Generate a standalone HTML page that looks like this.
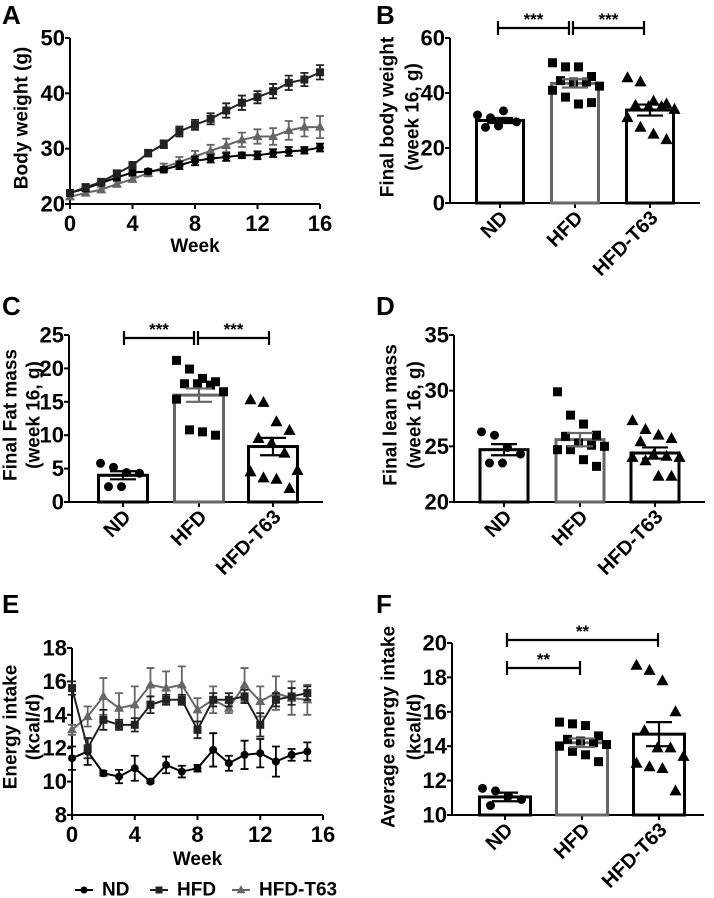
<!DOCTYPE html>
<html><head><meta charset="utf-8">
<style>
html,body{margin:0;padding:0;background:#fff;}
svg{display:block;font-family:"Liberation Sans",Arial,sans-serif;font-weight:bold;}
</style></head>
<body>
<svg id="fig" width="714" height="898" viewBox="0 0 714 898" xmlns="http://www.w3.org/2000/svg"></svg>
<script>
// ---- Panel A data (body weight, weeks 0..16)
const weeksA = [0,1,2,3,4,5,6,7,8,9,10,11,12,13,14,15,16];
const aND = [22,22.8,23.8,24.8,25.7,25.9,26.2,27,27.8,28.2,28.5,28.8,28.8,29.2,29.5,29.7,30.2];
const aNDerr = [0.5,0.5,0.4,0.5,0.5,0.4,0.5,0.7,0.8,0.7,0.7,0.5,0.7,0.7,0.8,0.6,0.7];
const aHFD = [22,23,24,25.5,27,29.2,30.8,33.1,34.3,35.4,36.9,38.3,39.3,40.4,41.9,42.5,43.8];
const aHFDerr = [0.5,0.6,0.5,0.6,0.6,0.6,0.7,0.9,0.9,1.0,1.3,1.3,1.1,1.3,1.3,1.2,1.3];
const aT63 = [21.3,22,22.6,23.6,24.5,25.6,26.6,27.6,28.6,29.6,30.6,31.6,32.2,32.2,33.3,33.9,33.9];
const aT63err = [0.4,0.5,0.5,0.5,0.5,0.6,0.7,0.9,1.0,1.1,1.2,1.3,1.3,1.5,1.7,1.7,2.0];
const ticksAX = [0,4,8,12,16];
const ticksAY = [20,30,40,50];
// ---- Panel E data (energy intake, weeks 0..15)
const weeksE = [0,1,2,3,4,5,6,7,8,9,10,11,12,13,14,15];
const eND = [11.4,11.8,10.5,10.3,10.8,10.0,11.0,10.6,10.8,11.9,11.1,11.6,11.7,11.2,11.6,11.8];
const eNDerr = [0.7,0.8,0.15,0.4,0.75,0.1,0.5,0.35,0.2,1.0,0.45,0.85,0.85,0.9,0.35,0.55];
const eHFD = [15.6,12.0,13.7,13.4,13.4,14.6,14.9,14.9,13.1,14.9,14.9,15.1,13.4,14.9,15.1,15.3];
const eHFDerr = [0.4,0.6,0.6,0.3,0.4,0.5,0.3,0.3,0.5,0.4,0.4,0.4,0.7,0.4,0.5,0.4];
const eT63 = [13.1,13.9,15.1,14.4,14.6,15.8,15.6,15.8,14.3,14.9,14.4,15.8,14.8,15.3,15.0,14.9];
const eT63err = [0.3,0.6,1.1,0.9,1.1,1.0,1.0,1.1,0.7,0.8,0.3,1.0,0.9,1.0,1.0,0.9];
const ticksEX = [0,4,8,12,16];
const ticksEY = [8,10,12,14,16,18];
// ---- Bar panels
const groups = ["ND","HFD","HFD-T63"];
const bMeans = [30,43.5,33.8];
const bSem = [0.9,1.5,2.0];
const bND = [32,31,33.5,29.5,27.5,28];
const bHFD = [51,49.5,49.5,46,44.5,44,44,42.5,41,38.5,36,36.5];
const bT63 = [45.5,44,37,36,35.5,35,35,34,31,27.5,25,23];
const ticksB = [0,20,40,60];
const cMeans = [4,16,8.3];
const cSem = [0.6,1.0,1.3];
const cND = [5.8,5.2,4.4,4.3,2.3,2.3];
const cHFD = [21.2,19.9,18.5,18,17.7,17.7,17.5,16.5,15.4,10.8,10.5,10.0];
const cT63 = [15.3,14.9,12,10.7,9.5,8.8,7.3,4.7,4.5,3.6,3.4,2.0];
const ticksC = [0,5,10,15,20,25];
const dMeans = [24.7,25.6,24.4];
const dSem = [0.5,0.6,0.5];
const dND = [26.3,26,24.9,24.3,23.5,23.5];
const dHFD = [29.9,27.8,27,26,25.9,25.3,25.1,25,24.7,24.7,23.8,23.2];
const dT63 = [27.3,26.5,26,25.7,25.4,24.2,24.1,24,24,23.7,22.3,22.3];
const ticksD = [20,25,30,35];
const fMeans = [11.05,14.2,14.7];
const fSem = [0.25,0.25,0.7];
const fND = [11.55,11.4,11.1,10.9,10.55];
const fHFD = [15.4,15.3,15.2,14.6,14.4,14.3,14.2,14.1,14.0,13.7,13.5,13.1];
const fT63 = [18.7,18.4,17.8,16,14.9,13.9,13.9,13.4,13.0,12.8,12.7,11.4];
const ticksF = [10,12,14,16,18,20];

const NS="http://www.w3.org/2000/svg";
const fig=document.getElementById('fig');
function mk(tag,attrs,parent){const e=document.createElementNS(NS,tag);for(const k in attrs)e.setAttribute(k,attrs[k]);(parent||fig).appendChild(e);return e;}
function txt(s,attrs,parent){const e=mk('text',attrs,parent);e.textContent=s;return e;}
function lin(s){return (v)=>s.r0+(v-s.d0)*(s.r1-s.r0)/(s.d1-s.d0);}

function marker(g,type,x,y,color,sz){
  let e;
  if(type==='circle') e=mk('circle',{cx:x,cy:y,r:sz/2,fill:color},g);
  else if(type==='square') e=mk('rect',{x:x-sz/2,y:y-sz/2,width:sz,height:sz,fill:color},g);
  else e=mk('polygon',{points:`${x},${y-sz*0.6} ${x-sz*0.55},${y+sz*0.4} ${x+sz*0.55},${y+sz*0.4}`,fill:color},g);
  return e;
}

function yTitle(g,lines,cx,cy){
  lines.forEach((l,i)=>{
    const t=txt(l.s,{x:0,y:0,'font-size':19,'text-anchor':'middle','dominant-baseline':'central',transform:`translate(${l.x},${cy}) rotate(-90)`},g);
    
    
  });
}

function panelLetter(s,x,y){
  const t=txt(s,{x:x,y:y,'font-size':26});
  
  
}

function lineChart(o){
  const g=mk('g',{});
  
  
  const X=lin(o.xs),Y=lin(o.ys);
  mk('line',{x1:o.xs.r0,y1:o.ys.r0,x2:o.xs.r0,y2:o.ys.r1,stroke:'#000','stroke-width':2},g);
  mk('line',{x1:o.xs.r0,y1:o.ys.r0,x2:o.xs.r1,y2:o.ys.r0,stroke:'#000','stroke-width':2},g);
  o.yt.forEach(v=>{
    mk('line',{x1:o.xs.r0-5,y1:Y(v),x2:o.xs.r0,y2:Y(v),stroke:'#000','stroke-width':2},g);
    const t=txt(String(v),{x:o.xs.r0-5,y:Y(v),'font-size':22,'text-anchor':'end','dominant-baseline':'central'},g);
    
    
  });
  o.xt.forEach(v=>{
    mk('line',{x1:X(v),y1:o.ys.r0,x2:X(v),y2:o.ys.r0+5,stroke:'#000','stroke-width':2},g);
    const t=txt(String(v),{x:X(v),y:o.ys.r0+27,'font-size':22,'text-anchor':'middle'},g);
    
    
  });
  const xtl=txt('Week',{x:(o.xs.r0+o.xs.r1)/2,y:o.weekY,'font-size':19,'text-anchor':'middle'},g);
  
  
  o.series.forEach(s=>{
    const sg=mk('g',{},g);
    
    
    const pts=o.x.map((w,i)=>X(w)+','+Y(s.v[i])).join(' ');
    mk('polyline',{points:pts,fill:'none',stroke:s.c,'stroke-width':2},sg);
    o.x.forEach((w,i)=>{
      const x=X(w),y1=Y(s.v[i]+s.e[i]),y2=Y(s.v[i]-s.e[i]);
      mk('path',{d:`M${x},${y1}V${y2}M${x-4},${y1}H${x+4}M${x-4},${y2}H${x+4}`,stroke:s.c,'stroke-width':1.8,fill:'none'},sg);
      const m=marker(sg,s.m,x,Y(s.v[i]),s.c,s.m==='triangle'?9:8);
      
      
    });
  });
  return g;
}

function barChart(o){
  const g=mk('g',{});
  
  
  const Y=lin(o.ys);
  const base=o.ys.r0;
  mk('line',{x1:o.ax,y1:o.ys.r0,x2:o.ax,y2:o.ys.r1,stroke:'#000','stroke-width':2},g);
  mk('line',{x1:o.ax,y1:base,x2:o.axEnd,y2:base,stroke:'#000','stroke-width':2},g);
  o.yt.forEach(v=>{
    mk('line',{x1:o.ax-5,y1:Y(v),x2:o.ax,y2:Y(v),stroke:'#000','stroke-width':2},g);
    const t=txt(String(v),{x:o.ax-5,y:Y(v),'font-size':22,'text-anchor':'end','dominant-baseline':'central'},g);
    
    
  });
  const mtypes=['circle','square','triangle'];
  const cols=['#000','#666','#000'];
  groups.forEach((gname,i)=>{
    const cx=o.cx[i];
    mk('line',{x1:cx,y1:base,x2:cx,y2:base+5,stroke:'#000','stroke-width':2},g);
    const bar=mk('rect',{x:cx-o.bw/2,y:Y(o.means[i]),width:o.bw,height:base-Y(o.means[i]),fill:'#fff',stroke:cols[i],'stroke-width':3},g);
    
    
    const pts=o.pts[i];
    pts.forEach((v,j)=>{
      const off=((j%4)-1.5)*13 + ((Math.floor(j/4)%2)?5:-3);
      const m=marker(g,mtypes[i],cx+off,Y(v),'#000',mtypes[i]==='triangle'?11:9);
      
      
    });
    const e1=Y(o.means[i]+o.sem[i]),e2=Y(o.means[i]-o.sem[i]);
    mk('path',{d:`M${cx},${e1}V${e2}M${cx-13},${e1}H${cx+13}M${cx-13},${e2}H${cx+13}`,stroke:cols[i],'stroke-width':2.2,fill:'none'},g);
    const t=txt(gname,{x:0,y:0,'font-size':20,'text-anchor':'end',transform:`translate(${cx+9},${base+16}) rotate(-45)`},g);
    
    
  });
  (o.sig||[]).forEach(s=>{
    const d=`M${s.x1},${s.y}H${s.x2}M${s.x1},${s.y-7}V${s.y+7}M${s.x2},${s.y-7}V${s.y+7}`;
    mk('path',{d:d,stroke:'#000','stroke-width':2.2,fill:'none'},g);
    const t=txt(s.t,{x:(s.x1+s.x2)/2,y:s.y-3,'font-size':17,'text-anchor':'middle'},g);
    
    
  });
  return g;
}

// Panel A
panelLetter('A',2,24);
lineChart({name:'chart-body-weight',xs:{d0:0,d1:16,r0:70,r1:320},ys:{d0:20,d1:50,r0:204,r1:38},
  x:weeksA,xt:ticksAX,yt:ticksAY,weekY:252,
  series:[{name:'series-hfd-t63',v:aT63,e:aT63err,c:'#666',m:'triangle'},
          {name:'series-nd',v:aND,e:aNDerr,c:'#000',m:'circle'},
          {name:'series-hfd',v:aHFD,e:aHFDerr,c:'#222',m:'square'}]});
yTitle(fig,[{s:'Body weight (g)',x:22}],0,118);

// Panel B
panelLetter('B',376,24);
barChart({name:'chart-final-body-weight',ax:450,axEnd:700,ys:{d0:0,d1:60,r0:203,r1:38},yt:ticksB,
  cx:[500,575,650],bw:47,means:bMeans,sem:bSem,pts:[bND,bHFD,bT63],
  sig:[{x1:498,x2:569,y:28,t:'***'},{x1:573,x2:644,y:28,t:'***'}]});
yTitle(fig,[{s:'Final body weight',x:388},{s:'(week 16, g)',x:413}],0,117);

// Panel C
panelLetter('C',2,315);
barChart({name:'chart-final-fat-mass',ax:69,axEnd:323,ys:{d0:0,d1:25,r0:502,r1:335},yt:ticksC,
  cx:[123,199,273],bw:49,means:cMeans,sem:cSem,pts:[cND,cHFD,cT63],
  sig:[{x1:124,x2:194,y:338,t:'***'},{x1:198,x2:269,y:338,t:'***'}]});
yTitle(fig,[{s:'Final Fat mass',x:11},{s:'(week 16, g)',x:34}],0,415);

// Panel D
panelLetter('D',376,315);
barChart({name:'chart-final-lean-mass',ax:454,axEnd:705,ys:{d0:20,d1:35,r0:502,r1:335},yt:ticksD,
  cx:[504,580,655],bw:48,means:dMeans,sem:dSem,pts:[dND,dHFD,dT63]});
yTitle(fig,[{s:'Final lean mass',x:391},{s:'(week 16, g)',x:415}],0,415);

// Panel E
panelLetter('E',2,613);
lineChart({name:'chart-energy-intake',xs:{d0:0,d1:16,r0:72,r1:323},ys:{d0:8,d1:18,r0:815,r1:648},
  x:weeksE,xt:ticksEX,yt:ticksEY,weekY:865,
  series:[{name:'series-hfd-t63',v:eT63,e:eT63err,c:'#666',m:'triangle'},
          {name:'series-nd',v:eND,e:eNDerr,c:'#000',m:'circle'},
          {name:'series-hfd',v:eHFD,e:eHFDerr,c:'#222',m:'square'}]});
yTitle(fig,[{s:'Energy intake',x:11},{s:'(kcal/d)',x:34}],0,727);

// Panel F
panelLetter('F',376,613);
barChart({name:'chart-average-energy-intake',ax:452,axEnd:704,ys:{d0:10,d1:20,r0:815,r1:643},yt:ticksF,
  cx:[505,582,659],bw:51,means:fMeans,sem:fSem,pts:[fND,fHFD,fT63],
  sig:[{x1:507,x2:580,y:668,t:'**'},{x1:507,x2:658,y:640,t:'**'}]});
yTitle(fig,[{s:'Average energy intake',x:389},{s:'(kcal/d)',x:415}],0,727);

// Legend
const lg=mk('g',{});


[{x:75,t:'ND',m:'circle',c:'#000'},{x:150,t:'HFD',m:'square',c:'#222'},{x:232,t:'HFD-T63',m:'triangle',c:'#666'}].forEach(l=>{
  const eg=mk('g',{},lg);
  
  
  mk('line',{x1:l.x,y1:890,x2:l.x+18,y2:890,stroke:l.c,'stroke-width':2},eg);
  marker(eg,l.m,l.x+9,890,l.c,l.m==='triangle'?8:7);
  txt(l.t,{x:l.x+27,y:890,'font-size':19,'dominant-baseline':'central'},eg);
});
</script>
</body></html>
